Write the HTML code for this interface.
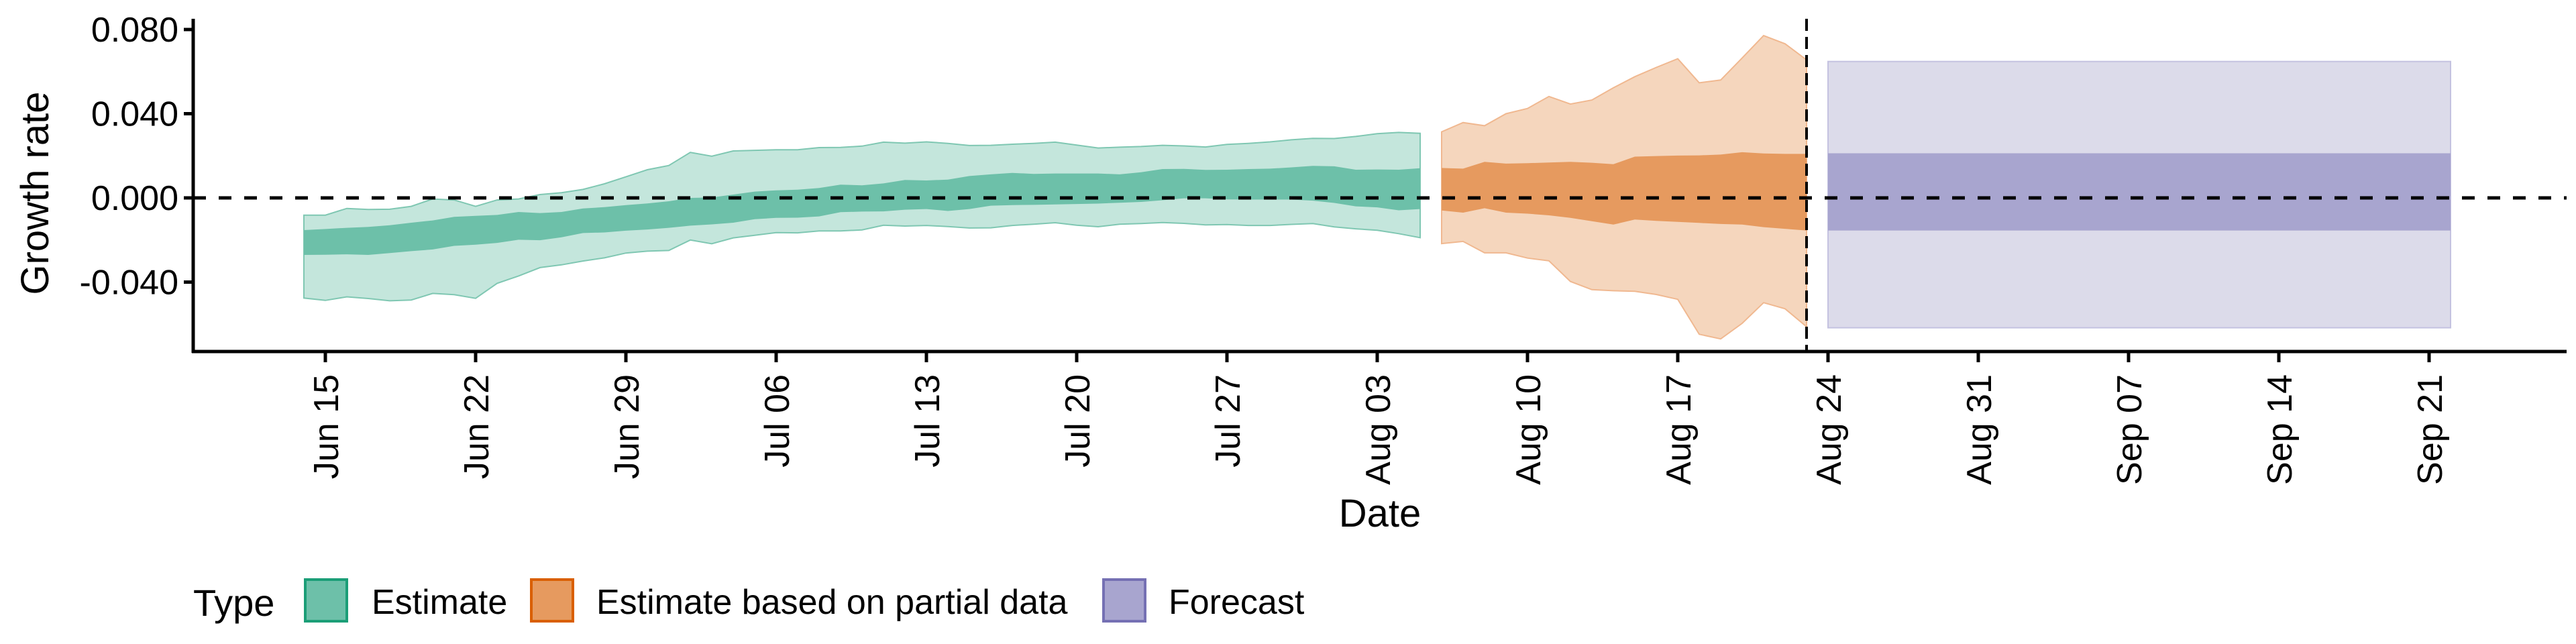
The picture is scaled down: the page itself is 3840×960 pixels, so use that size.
<!DOCTYPE html>
<html><head><meta charset="utf-8">
<style>
html,body{margin:0;padding:0;background:#fff;}
svg{display:block;font-family:"Liberation Sans",sans-serif;}
</style></head>
<body>
<svg id="chart" width="3840" height="960" viewBox="0 0 3840 960" xmlns="http://www.w3.org/2000/svg">
<g id="bands"></g>
<g id="axes"></g>
<text x="72" y="288" font-size="58" text-anchor="middle" transform="rotate(-90 72 288)">Growth rate</text>
<text x="2057" y="785" font-size="58" text-anchor="middle">Date</text>
<g>
<text x="288" y="918" font-size="56">Type</text>
<g>
<rect x="455" y="864" width="62" height="62" fill="#6dc0a9" stroke="#1b9e77" stroke-width="4"/>
<text x="554" y="915" font-size="52">Estimate</text></g>
<g>
<rect x="792" y="864" width="62" height="62" fill="#e69a5f" stroke="#d95f02" stroke-width="4"/>
<text x="889" y="915" font-size="52">Estimate based on partial data</text></g>
<g>
<rect x="1645" y="864" width="62" height="62" fill="#a8a5cf" stroke="#7570b3" stroke-width="4"/>
<text x="1742" y="915" font-size="52">Forecast</text></g>
</g>
</svg>
<script>
// days are offsets from Jun 15
const estStart = -1;
const estUpper90 = [-0.0082,-0.0082,-0.005,-0.0055,-0.0054,-0.004,-0.0005,-0.001,-0.004,-0.001,-0.0005,0.0016,0.0025,0.004,0.0067,0.010,0.0134,0.0154,0.0216,0.0198,0.0223,0.0226,
0.0229,0.0229,0.0239,0.0240,0.0246,0.0265,0.026,0.0266,0.0259,0.0249,0.025,0.0255,0.0259,0.0265,0.0251,0.0237,0.0241,0.0244,0.025,0.0247,0.0242,0.0254,0.0259,0.0266,0.0276,0.0283,0.0282,0.0292,0.0305,0.0311,0.0307];
const estLower90 = [-0.0476,-0.0487,-0.047,-0.0478,-0.0489,-0.0485,-0.0454,-0.046,-0.0477,-0.0406,-0.0371,-0.0331,-0.0318,-0.030,-0.0285,-0.0262,-0.0253,-0.025,-0.020,-0.0218,-0.019,-0.0178,
-0.0165,-0.0166,-0.0157,-0.0157,-0.0152,-0.013,-0.0134,-0.0131,-0.0136,-0.0143,-0.0142,-0.0131,-0.0125,-0.0118,-0.0130,-0.0137,-0.0125,-0.0122,-0.0117,-0.0121,-0.0128,-0.0127,-0.0131,-0.0131,-0.0126,-0.0122,-0.0138,-0.0147,-0.0154,-0.017,-0.0189];
const estUpper50 = [-0.0153,-0.0148,-0.0142,-0.0138,-0.0130,-0.0118,-0.0107,-0.009,-0.0085,-0.0081,-0.0067,-0.0072,-0.0067,-0.005,-0.0044,-0.0034,-0.0026,-0.0016,0,0.0002,0.0016,0.003,
0.0036,0.0039,0.0047,0.0063,0.006,0.0069,0.0085,0.0083,0.0087,0.0104,0.0112,0.0119,0.0114,0.0116,0.0116,0.0116,0.0112,0.0122,0.0137,0.0138,0.0133,0.0134,0.0137,0.0139,0.0145,0.0152,0.015,0.0134,0.0135,0.0134,0.0141];
const estLower50 = [-0.0271,-0.027,-0.0268,-0.0271,-0.0262,-0.0253,-0.0245,-0.0228,-0.0222,-0.0214,-0.0199,-0.0201,-0.0187,-0.0167,-0.0164,-0.0156,-0.015,-0.0142,-0.0132,-0.0126,-0.0118,-0.0101,
-0.0095,-0.0094,-0.0088,-0.0068,-0.0065,-0.0064,-0.0056,-0.0053,-0.0062,-0.0053,-0.0037,-0.0034,-0.0033,-0.0031,-0.0029,-0.0027,-0.0023,-0.0019,-0.0011,-0.0002,-0.0002,-0.0007,-0.0008,-0.0008,-0.0008,-0.0013,-0.0024,-0.004,-0.0045,-0.0059,-0.0053];
const partStart = 52;
const partUpper90 = [0.0314,0.0358,0.0343,0.04,0.0425,0.0482,0.0446,0.0465,0.0523,0.0576,0.062,0.0661,0.0547,0.056,0.0665,0.0771,0.0732,0.0656];
const partLower90 = [-0.0217,-0.0207,-0.0261,-0.0261,-0.0286,-0.0299,-0.0397,-0.0436,-0.0441,-0.0444,-0.0459,-0.0482,-0.0648,-0.067,-0.0596,-0.0498,-0.0527,-0.0612];
const partUpper50 = [0.0142,0.0139,0.0171,0.0163,0.0165,0.0168,0.0171,0.0167,0.016,0.0196,0.0199,0.0201,0.0202,0.0206,0.0217,0.0211,0.0209,0.0209];
const partLower50 = [-0.006,-0.007,-0.0049,-0.007,-0.0075,-0.0083,-0.0095,-0.0111,-0.0127,-0.0103,-0.0109,-0.0114,-0.0119,-0.0124,-0.0127,-0.0139,-0.0147,-0.0155];
const fcDays = [70, 99];
const fcUpper90 = 0.0648, fcLower90 = -0.0617, fcUpper50 = 0.0212, fcLower50 = -0.0155;
const dataCutoffDay = 69;
const yTicks = [0.08, 0.04, 0, -0.04];
const yTickLabels = ["0.080","0.040","0.000","-0.040"];
const xTickDays = [0,7,14,21,28,35,42,49,56,63,70,77,84,91,98];
const xTickLabels = ["Jun 15","Jun 22","Jun 29","Jul 06","Jul 13","Jul 20","Jul 27","Aug 03","Aug 10","Aug 17","Aug 24","Aug 31","Sep 07","Sep 14","Sep 21"];

const NS = "http://www.w3.org/2000/svg";
const X = d => 485 + d * 32.0;
const Y = v => 295 - v / 0.04 * 125.5;
function mk(tag, attrs, parent) {
  const e = document.createElementNS(NS, tag);
  for (const k in attrs) e.setAttribute(k, attrs[k]);
  parent.appendChild(e);
  return e;
}
const bands = document.getElementById('bands');
const axes = document.getElementById('axes');
function band(start, up, lo, fill, stroke, name) {
  let pts = up.map((v, i) => X(start + i).toFixed(1) + ',' + Y(v).toFixed(1));
  for (let i = lo.length - 1; i >= 0; i--) pts.push(X(start + i).toFixed(1) + ',' + Y(lo[i]).toFixed(1));
  const p = mk('polygon', {points: pts.join(' '), fill: fill, stroke: stroke || 'none', 'stroke-width': 2}, bands);
  
  
}
band(estStart, estUpper90, estLower90, '#c4e6dc', '#7fc7b2', 'estimate-90-band');
band(estStart, estUpper50, estLower50, '#6dc0a9', null, 'estimate-50-band');
band(partStart, partUpper90, partLower90, '#f5d6bd', '#f0b890', 'partial-90-band');
band(partStart, partUpper50, partLower50, '#e69a5f', null, 'partial-50-band');
const f1 = mk('rect', {x: X(fcDays[0]), y: Y(fcUpper90), width: X(fcDays[1]) - X(fcDays[0]), height: Y(fcLower90) - Y(fcUpper90), fill: '#dcdbea', stroke: '#c4c2e0', 'stroke-width': 2}, bands);


const f2 = mk('rect', {x: X(fcDays[0]), y: Y(fcUpper50), width: X(fcDays[1]) - X(fcDays[0]), height: Y(fcLower50) - Y(fcUpper50), fill: '#a8a5cf'}, bands);



const zl = mk('line', {x1: 288, x2: 3826, y1: Y(0), y2: Y(0), stroke: '#000', 'stroke-width': 5, 'stroke-dasharray': '19 19'}, axes);


const vl = mk('line', {x1: X(dataCutoffDay), x2: X(dataCutoffDay), y1: 28, y2: 524, stroke: '#000', 'stroke-width': 4, 'stroke-dasharray': '18 9'}, axes);


const ya = mk('line', {x1: 288, x2: 288, y1: 28, y2: 526, stroke: '#000', 'stroke-width': 5}, axes);


const xa = mk('line', {x1: 286, x2: 3826, y1: 524, y2: 524, stroke: '#000', 'stroke-width': 5}, axes);


yTicks.forEach((v, i) => {
  const t = mk('line', {x1: 274, x2: 288, y1: Y(v), y2: Y(v), stroke: '#000', 'stroke-width': 5}, axes);
  
  
  const l = mk('text', {x: 266, y: Y(v) + 18, 'font-size': 52, 'text-anchor': 'end'}, axes);
  l.textContent = yTickLabels[i];
  
  
});
xTickDays.forEach((d, i) => {
  const t = mk('line', {x1: X(d), x2: X(d), y1: 524, y2: 540, stroke: '#000', 'stroke-width': 5}, axes);
  
  
  const tx = X(d) + 19, ty = 558;
  const l = mk('text', {x: tx, y: ty, 'font-size': 52, 'text-anchor': 'end', transform: 'rotate(-90 ' + tx + ' ' + ty + ')'}, axes);
  l.textContent = xTickLabels[i];
  
  
});
</script>
</body></html>
